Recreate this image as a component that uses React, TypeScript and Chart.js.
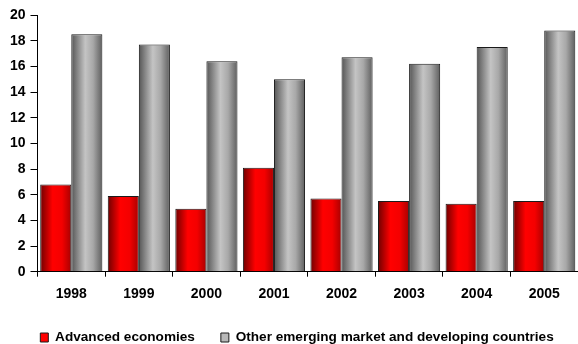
import React, { useEffect, useRef } from "react";
import { Chart, registerables } from "chart.js";

Chart.register(...registerables);

const categories = ["1998", "1999", "2000", "2001", "2002", "2003", "2004", "2005"];
const advancedEconomies = [6.8, 5.9, 4.9, 8.1, 5.7, 5.5, 5.3, 5.5];
const otherEmerging = [18.5, 17.7, 16.4, 15.0, 16.7, 16.2, 17.5, 18.8];
const seriesNames = ["Advanced economies", "Other emerging market and developing countries"];

const CAT_PCT = 0.92;
const FONT = "'Liberation Sans', Arial, sans-serif";

const gradientStops: Record<number, [number, string][]> = {
  0: [
    [0, "#6e0000"],
    [0.4, "#ff0000"],
    [0.7, "#f40000"],
    [1, "#a80000"],
  ],
  1: [
    [0, "#555555"],
    [0.45, "#c4c4c4"],
    [0.7, "#a8a8a8"],
    [1, "#5e5e5e"],
  ],
};
const solid = ["#ff0000", "#b8b8b8"];

function barFill(c: any) {
  const di = c.datasetIndex;
  if (c.type !== "data") return solid[di];
  const chart = c.chart;
  const xs = chart.scales && chart.scales.x;
  if (!xs || !chart.ctx) return solid[di];
  const center = xs.getPixelForValue(c.dataIndex);
  const catW = xs.width / categories.length;
  if (!isFinite(center) || !isFinite(catW) || catW <= 0) return solid[di];
  const size = catW * CAT_PCT;
  const chunk = size / 2;
  const left = center - size / 2 + chunk * di;
  if (!isFinite(left)) return solid[di];
  const g = chart.ctx.createLinearGradient(left, 0, left + chunk, 0);
  for (const [o, col] of gradientStops[di]) g.addColorStop(o, col);
  return g;
}

const legendShift = {
  id: "legendShift",
  afterLayout(chart: any) {
    if (chart.legend) {
      chart.legend.left += 8;
      chart.legend.right += 8;
    }
  },
};

export default function App() {
  const ref = useRef<HTMLCanvasElement | null>(null);
  useEffect(() => {
    document.body.style.margin = "0";
    const canvas = ref.current!;
    const baseGen = (Chart as any).defaults.plugins.legend.labels.generateLabels;
    const chart = new Chart(canvas, {
      type: "bar",
      data: {
        labels: categories,
        datasets: [
          {
            label: seriesNames[0],
            data: advancedEconomies,
            backgroundColor: barFill,
            borderColor: "#1a1a1a",
            borderWidth: 1,
          },
          {
            label: seriesNames[1],
            data: otherEmerging,
            backgroundColor: barFill,
            borderColor: "#1a1a1a",
            borderWidth: 1,
          },
        ],
      },
      plugins: [legendShift],
      options: {
        responsive: false,
        animation: false,
        events: [],
        layout: { padding: { left: 0, right: 0, top: 15, bottom: 0 } },
        datasets: { bar: { categoryPercentage: CAT_PCT, barPercentage: 1 } },
        scales: {
          x: {
            afterFit: (s: any) => {
              s.height = 33;
            },
            grid: {
              display: true,
              drawOnChartArea: false,
              drawTicks: true,
              tickLength: 5,
              color: "#000",
              offset: true,
            },
            border: { display: true, color: "#000", width: 1 },
            ticks: {
              color: "#000",
              padding: 9,
              font: { family: FONT, size: 14, weight: "bold" },
            },
          },
          y: {
            min: 0,
            max: 20,
            afterFit: (s: any) => {
              s.width = 37.5;
            },
            grid: {
              display: true,
              drawOnChartArea: false,
              drawTicks: true,
              tickLength: 7,
              color: "#000",
            },
            border: { display: true, color: "#000", width: 1 },
            ticks: {
              stepSize: 2,
              color: "#000",
              padding: 5,
              font: { family: FONT, size: 14, weight: "bold" },
            },
          },
        },
        plugins: {
          tooltip: { enabled: false },
          legend: {
            position: "bottom",
            maxHeight: 39.3,
            labels: {
              color: "#000",
              boxWidth: 8,
              boxHeight: 9,
              padding: 26,
              font: { family: FONT, size: 13.6, weight: "bold" },
              generateLabels: (ch: any) =>
                baseGen(ch).map((it: any, i: number) => ({
                  ...it,
                  fillStyle: solid[i],
                  strokeStyle: "#1a1a1a",
                  lineWidth: 1,
                })),
            },
          },
        },
      } as any,
    });
    chart.update();
    return () => chart.destroy();
  }, []);
  return (
    <div style={{ width: 578, height: 344 }}>
      <canvas ref={ref} width={578} height={344} style={{ display: "block" }} />
    </div>
  );
}
